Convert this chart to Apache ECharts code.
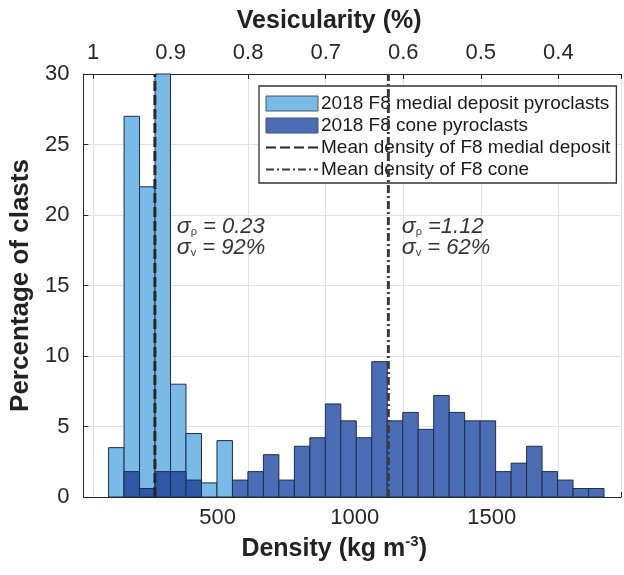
<!DOCTYPE html>
<html>
<head>
<meta charset="utf-8">
<script src="https://cdn.jsdelivr.net/npm/echarts@6/dist/echarts.min.js"></script>
<style>
  html, body { margin: 0; padding: 0; background: #fff; }
  #chart { width: 624px; height: 575px; }
</style>
</head>
<body>
<div id="chart"></div>
<script>
// histogram bins (density, kg m-3): left edges, last entry is the right end
const binEdges = [102, 158.5, 215, 271.5, 328, 384.5, 441, 497.5, 554, 610.5, 667, 723.5,
    780, 836.5, 893, 949.5, 1006, 1062.5, 1119, 1175.5, 1232, 1288.5, 1345, 1401.5,
    1458, 1514.5, 1571, 1627.5, 1684, 1740.5, 1797, 1853.5, 1910];

// percentage of clasts per bin
const medialPct = [3.5, 27, 22, 30, 8, 4.5, 1, 4, 0, 0, 0, 0, 0, 0, 0, 0,
    0, 0, 0, 0, 0, 0, 0, 0, 0, 0, 0, 0, 0, 0, 0, 0];
const conePct = [0, 1.8, 0.6, 1.8, 1.8, 1.2, 0, 0, 1.2, 1.8, 3, 1.2, 3.6, 4.2, 6.6, 5.4,
    4.2, 9.6, 5.4, 6.0, 4.8, 7.2, 6.0, 5.4, 5.4, 1.8, 2.4, 3.6, 1.8, 1.2, 0.6, 0.6];

const meanMedial = 271;
const meanCone = 1123;

const seriesNames = [
    '2018 F8 medial deposit pyroclasts',
    '2018 F8 cone pyroclasts',
    'Mean density of F8 medial deposit',
    'Mean density of F8 cone'
];

const annotations = [
    { x: 351, y: 18.4, rho: '0.23', rhoSep: ' = ', ves: '92%' },
    { x: 1172, y: 18.4, rho: '1.12', rhoSep: ' =', ves: '62%' }
];

const FONT = "'Liberation Sans', Arial, Helvetica, sans-serif";
const TXT = '#262626';
const LIGHT = '#79bbe6';
const CONE = '#4a6db6';
const OVERLAP = '#2c58a6';
const EDGE = '#1f2d4d';

function histData(values) {
    const out = [];
    values.forEach((v, i) => {
        if (v > 0) out.push([binEdges[i], binEdges[i + 1], v, medialPct[i]]);
    });
    return out;
}

function barRenderer(kind) {
    return function (params, api) {
        const p0 = api.coord([api.value(0), api.value(2)]);
        const p1 = api.coord([api.value(1), 0]);
        let fill = LIGHT;
        if (kind === 'cone') fill = api.value(3) > 0 ? OVERLAP : CONE;
        return {
            type: 'rect',
            shape: { x: p0[0], y: p0[1], width: p1[0] - p0[0], height: p1[1] - p0[1] },
            style: { fill: fill, stroke: EDGE, lineWidth: 1 }
        };
    };
}

const chart = echarts.init(document.getElementById('chart'));

const option = {
    animation: false,
    textStyle: { fontFamily: FONT },
    grid: { left: 83, right: 3, top: 74, bottom: 78, containLabel: false },
    legend: {
        data: [
            { name: seriesNames[0], icon: 'rect', itemStyle: { borderWidth: 1, borderColor: '#44536e' } },
            { name: seriesNames[1], icon: 'rect', itemStyle: { borderWidth: 1, borderColor: '#44536e' } },
            { name: seriesNames[2], itemStyle: { opacity: 0 } },
            { name: seriesNames[3], itemStyle: { opacity: 0 } }
        ],
        orient: 'vertical',
        left: 259,
        top: 86,
        padding: [8, 6, 4, 6],
        itemGap: 3,
        itemWidth: 52,
        itemHeight: 15,
        backgroundColor: '#fff',
        borderColor: '#333',
        borderWidth: 1.3,
        borderRadius: 0,
        textStyle: { fontSize: 19, color: '#1a1a1a', padding: [0, 0, 0, -2] }
    },
    xAxis: [
        {
            type: 'value',
            position: 'bottom',
            min: 10,
            max: 1972,
            minInterval: 500,
            maxInterval: 500,
            name: 'Density (kg m{sup|-3})',
            nameLocation: 'middle',
            nameGap: 30,
            nameTextStyle: {
                fontSize: 25, fontWeight: 'bold', color: '#222', padding: [0, 36, 0, 0],
                rich: { sup: { fontSize: 15, fontWeight: 'bold', color: '#222', verticalAlign: 'top', padding: [0, 0, 16, 0] } }
            },
            axisLine: { show: true, onZero: false, lineStyle: { color: TXT, width: 1 } },
            axisTick: { show: true, inside: true, length: 5, lineStyle: { color: TXT } },
            axisLabel: {
                fontSize: 22, color: TXT, margin: 10,
                formatter: v => (v % 500 === 0 ? String(v) : '')
            },
            splitLine: { show: false }
        },
        {
            type: 'value',
            position: 'top',
            inverse: true,
            min: 0.3192,
            max: 1.0125,
            minInterval: 0.1,
            maxInterval: 0.1,
            name: 'Vesicularity (%)',
            nameLocation: 'middle',
            nameGap: 40,
            nameTextStyle: { fontSize: 25, fontWeight: 'bold', color: '#222', padding: [0, 46, 0, 0] },
            axisLine: { show: true, onZero: false, lineStyle: { color: TXT, width: 1 } },
            axisTick: { show: true, inside: true, length: 5, lineStyle: { color: TXT } },
            axisLabel: {
                fontSize: 22, color: TXT, margin: 10,
                formatter: v => (Math.abs(v * 10 - Math.round(v * 10)) < 1e-6 ? String(+v.toFixed(1)) : '')
            },
            splitLine: { show: true, lineStyle: { color: '#e2e2e2', width: 1 } }
        }
    ],
    yAxis: {
        type: 'value',
        min: 0,
        max: 30,
        interval: 5,
        name: 'Percentage of clasts',
        nameLocation: 'middle',
        nameGap: 48,
        nameTextStyle: { fontSize: 26, fontWeight: 'bold', color: '#222' },
        axisLine: { show: true, lineStyle: { color: TXT, width: 1 } },
        axisTick: { show: true, inside: true, length: 5, lineStyle: { color: TXT } },
        axisLabel: { fontSize: 22, color: TXT, margin: 14 },
        splitLine: { show: true, lineStyle: { color: '#e2e2e2', width: 1 } }
    },
    series: [
        {
            name: seriesNames[0],
            type: 'custom',
            xAxisIndex: 0,
            renderItem: barRenderer('medial'),
            itemStyle: { color: LIGHT, borderColor: EDGE, borderWidth: 1 },
            encode: { x: [0, 1], y: 2 },
            data: histData(medialPct),
            z: 2
        },
        {
            name: seriesNames[1],
            type: 'custom',
            xAxisIndex: 0,
            renderItem: barRenderer('cone'),
            itemStyle: { color: CONE, borderColor: EDGE, borderWidth: 1 },
            encode: { x: [0, 1], y: 2 },
            data: histData(conePct),
            z: 3
        },
        {
            name: seriesNames[2],
            type: 'line',
            xAxisIndex: 0,
            symbol: 'none',
            lineStyle: { color: '#262626', width: 3, type: [10, 4] },
            itemStyle: { color: '#262626' },
            data: [[meanMedial, 0], [meanMedial, 30]],
            z: 5
        },
        {
            name: seriesNames[3],
            type: 'line',
            xAxisIndex: 0,
            symbol: 'none',
            lineStyle: { color: '#3a3a3a', width: 3, type: [8, 3, 2, 3] },
            itemStyle: { color: '#3a3a3a' },
            data: [[meanCone, 0], [meanCone, 30]],
            z: 5
        },
        {
            name: 'annotations',
            type: 'scatter',
            xAxisIndex: 0,
            symbolSize: 0,
            silent: true,
            data: annotations.map(a => ({ value: [a.x, a.y], a: a })),
            label: {
                show: true,
                position: 'right',
                distance: 0,
                formatter: p => '{s|σ}{sub|ρ}{t|' + p.data.a.rhoSep + p.data.a.rho + '}\n{s|σ}{sub|v}{t| = ' + p.data.a.ves + '}',
                rich: {
                    s: { fontSize: 23, fontStyle: 'italic', color: '#000', lineHeight: 21 },
                    sub: { fontSize: 11, color: '#000', verticalAlign: 'bottom', lineHeight: 21 },
                    t: { fontSize: 22, fontStyle: 'italic', color: '#000', lineHeight: 21 }
                }
            },
            z: 6
        }
    ]
};

chart.setOption(option);
</script>
</body>
</html>
